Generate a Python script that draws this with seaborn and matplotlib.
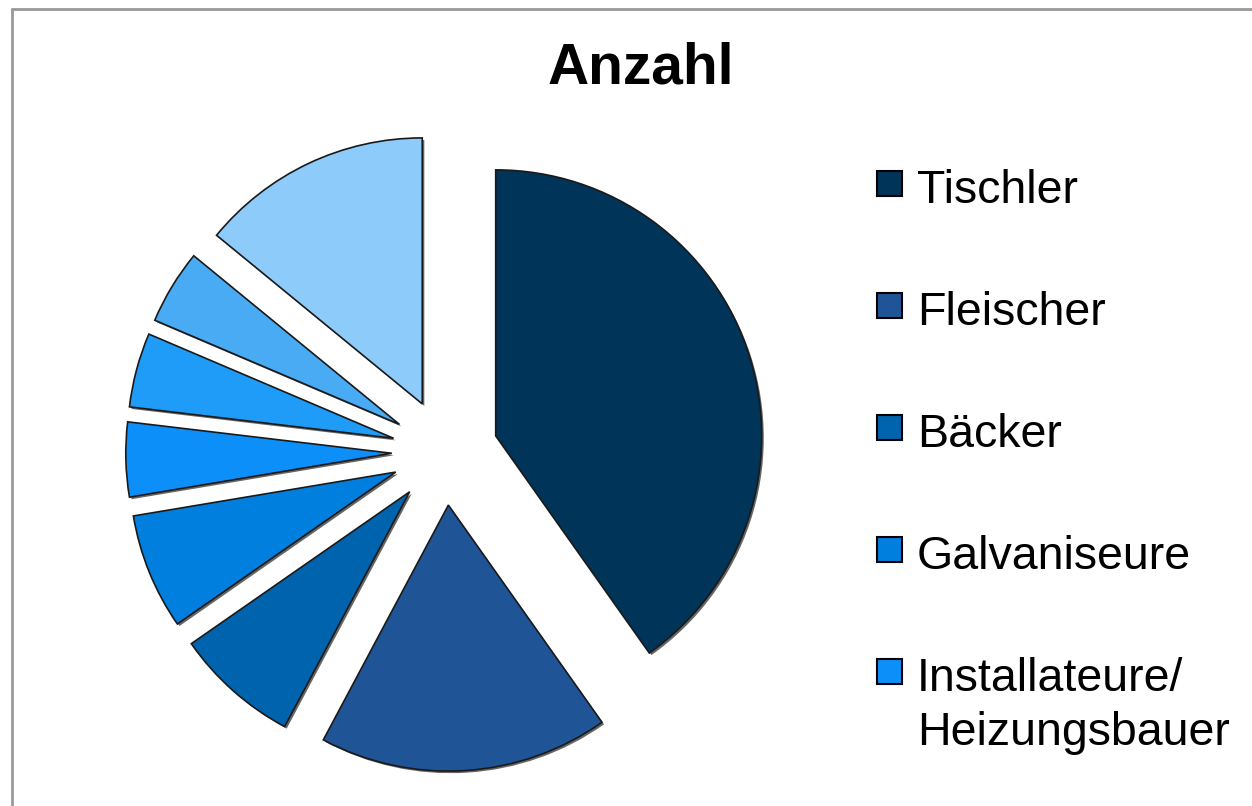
import matplotlib.pyplot as plt
import matplotlib.patheffects as pe
from matplotlib.patches import Rectangle
from matplotlib.lines import Line2D
import seaborn as sns

# data
berufe = ["Tischler", "Fleischer", "Bäcker", "Galvaniseure",
          "Installateure/\nHeizungsbauer", "Schlosser", "Elektriker", "Sonstige"]
anzahl = [80, 35, 15, 14, 9, 9, 9, 28]
farben = ["#003458", "#1f5597", "#0063ad", "#007fdf",
          "#0d8ffa", "#1e9cf8", "#4aabf5", "#8dcbfa"]
legend_n = 5  # only the first five entries fit into the picture

sns.set_theme(style="white")
plt.rcParams['font.family'] = ['Liberation Sans', 'DejaVu Sans']

W, H = 1252, 806
fig = plt.figure(figsize=(W / 100, H / 100), dpi=100)

# pie centre and radius in pixels (from top-left corner)
cx, cy, r = 445, 452, 266
ax = fig.add_axes([0, 0, 1, 1])
wedges, _ = ax.pie(anzahl, colors=sns.color_palette(farben), startangle=90,
                   counterclock=False, explode=[0.2] * len(anzahl),
                   wedgeprops=dict(edgecolor='#1a1a1a', linewidth=1.2))
for w in wedges:
    w.set_path_effects([pe.SimplePatchShadow(offset=(1.5, -1.5), shadow_rgbFace='black', alpha=0.6),
                        pe.Normal()])
ax.set_xlim(-cx / r, (W - cx) / r)
ax.set_ylim(-(H - cy) / r, cy / r)
ax.set_aspect('equal')
ax.axis('off')

fig.text(641 / W, 1 - 83 / H, "Anzahl", ha='center', va='baseline',
         fontsize=41, fontweight='bold', color='black')

# legend
for i in range(legend_n):
    base = 203 + i * 122
    fig.add_artist(Rectangle((877 / W, 1 - (base - 7) / H), 25 / W, 25 / H,
                             transform=fig.transFigure, facecolor=farben[i],
                             edgecolor='black', linewidth=1.5))
    for k, line in enumerate(berufe[i].split('\n')):
        fig.text(917 / W, 1 - (base + k * 54) / H, line, fontsize=33.5,
                 va='baseline', ha='left', color='black')

# frame lines at the top and left
fig.add_artist(Line2D([12 / W, 12 / W], [0, 1 - 9 / H], color='#999999', lw=2,
                      transform=fig.transFigure))
fig.add_artist(Line2D([12 / W, 1], [1 - 9 / H, 1 - 9 / H], color='#999999', lw=2,
                      transform=fig.transFigure))

fig.savefig('out.png', dpi=100)
